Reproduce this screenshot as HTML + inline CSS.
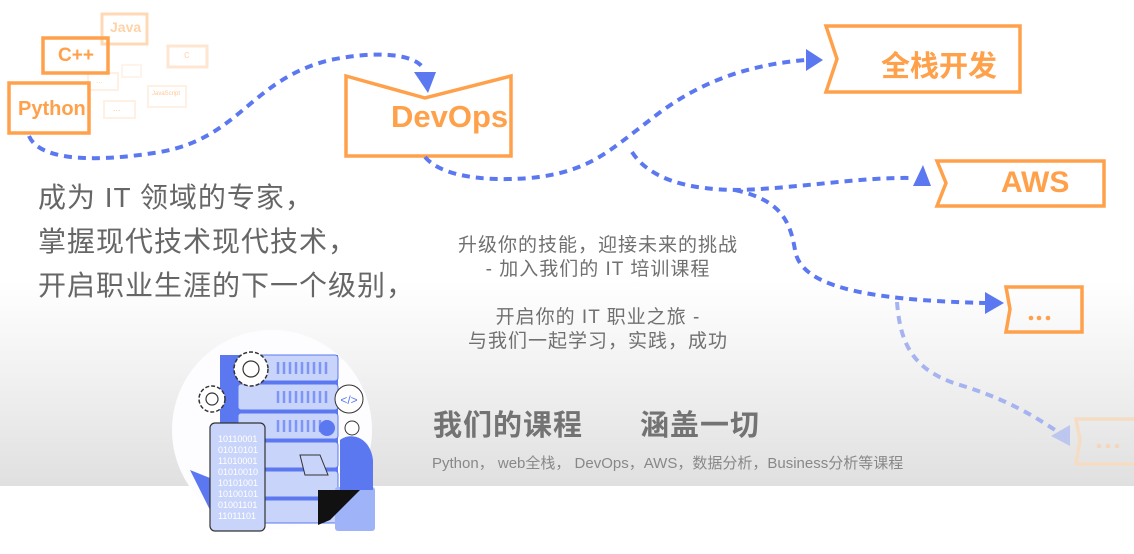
<!DOCTYPE html>
<html><head><meta charset="utf-8"><style>
html,body{margin:0;padding:0}
body{width:1134px;height:554px;position:relative;overflow:hidden;background:#fff;font-family:"Liberation Sans","Noto Sans CJK SC",sans-serif}
.bg{position:absolute;left:0;top:280px;width:1134px;height:206px;background:linear-gradient(#fff 0%,#f3f3f3 40%,#e0e0e0 100%)}
.t{position:absolute;white-space:nowrap}
</style></head><body>
<div class="bg"></div>
<svg width="1134" height="554" style="position:absolute;left:0;top:0" xmlns="http://www.w3.org/2000/svg">
<g fill="none" stroke-width="3">
<rect x="102" y="14" width="45" height="30" stroke="#ffd9b5"/>
<rect x="168" y="46" width="39" height="21" stroke="#ffe6d0"/>
<rect x="88" y="73" width="30" height="17" stroke="#fff0e4" stroke-width="2"/>
<rect x="122" y="65" width="19" height="12" stroke="#fff0e4" stroke-width="1.5"/>
<rect x="104" y="101" width="31" height="17" stroke="#fff0e4" stroke-width="2"/>
<rect x="148" y="86" width="38" height="21" stroke="#fff0e4" stroke-width="2"/>
<rect x="43" y="38" width="65" height="35" stroke="#ffa04a" stroke-width="3.5"/>
<rect x="9" y="83" width="80" height="50" stroke="#ffa04a" stroke-width="3.5"/>
<path d="M346,76 L425,98 L511,76 L511,156 L346,156 Z" stroke="#ffa04a" stroke-width="3.5"/>
<path d="M826,26 L1020,26 L1020,92 L826,92 L837,59 Z" stroke="#ffa04a" stroke-width="3.5"/>
<path d="M937,161 L1104,161 L1104,206 L937,206 L946,183 Z" stroke="#ffa04a" stroke-width="3.5"/>
<path d="M1006,287 L1082,287 L1082,332 L1006,332 L1010,309 Z" stroke="#ffa04a" stroke-width="3.5"/>
<path d="M1076,419 L1140,419 L1140,464 L1076,464 L1080,440 Z" stroke="#f5dcc4" stroke-width="3.5"/>
</g>
<g fill="none" stroke="#5b78f0" stroke-width="4" stroke-dasharray="8 6">
<path d="M29,136 C40,162 100,162 160,152 C240,138 250,80 330,60 C390,48 420,58 424,70"/>
<path d="M425,157 C440,175 480,182 530,178 C590,172 610,150 650,120 C700,80 750,65 805,60"/>
<path d="M632,152 C650,180 690,190 740,190 C800,188 860,177 912,178"/>
<path d="M735,190 C780,200 790,220 795,250 C800,285 860,300 985,303"/>
<path d="M897,302 C900,340 910,370 960,385 C1010,400 1040,420 1058,432" stroke="#a5b4f0"/>
</g>
<g fill="#5b78f0">
<polygon points="414,72 436,72 428,93"/>
<polygon points="806,49 823,60 806,71"/>
<polygon points="913,186 931,186 923,165"/>
<polygon points="985,292 1004,303 985,314"/>
<polygon points="1051,436 1070,425 1070,446" fill="#bcc6ee"/>
</g>
<g fill="#ffa04a"><circle cx="1031" cy="318" r="2.3"/><circle cx="1039" cy="318" r="2.3"/><circle cx="1048" cy="318" r="2.3"/></g>
<g fill="#f3d6bb"><circle cx="1099" cy="446" r="2.3"/><circle cx="1108" cy="446" r="2.3"/><circle cx="1117" cy="446" r="2.3"/></g>
<!-- illustration -->
<circle cx="272" cy="430" r="100" fill="#fdfdff"/>
<rect x="220" y="355" width="118" height="168" fill="#5b78f0"/>
<g fill="#c9d4fb" stroke="#5b78f0" stroke-width="1">
<rect x="238" y="355" width="100" height="26" rx="3"/><rect x="238" y="384" width="100" height="26" rx="3"/>
<rect x="238" y="413" width="100" height="26" rx="3"/><rect x="238" y="442" width="100" height="26" rx="3"/>
<rect x="238" y="471" width="100" height="26" rx="3"/><rect x="238" y="500" width="100" height="23" rx="3"/>
</g>
<g stroke="#7d95f5" stroke-width="2.5">
<path d="M278,362 v12 M284,362 v12 M290,362 v12 M296,362 v12 M302,362 v12 M308,362 v12 M314,362 v12 M320,362 v12 M326,362 v12"/>
<path d="M278,391 v12 M284,391 v12 M290,391 v12 M296,391 v12 M302,391 v12 M308,391 v12 M314,391 v12 M320,391 v12 M326,391 v12"/>
<path d="M278,420 v12 M284,420 v12 M290,420 v12 M296,420 v12 M302,420 v12 M308,420 v12 M314,420 v12 M320,420 v12 M326,420 v12"/>
</g>
<circle cx="251" cy="369" r="17" fill="#fff" stroke="#333" stroke-width="1.5" stroke-dasharray="4 2"/>
<circle cx="251" cy="369" r="8" fill="#fff" stroke="#333" stroke-width="1.2"/>
<circle cx="212" cy="399" r="13" fill="#fff" stroke="#333" stroke-width="1.5" stroke-dasharray="4 2"/>
<circle cx="212" cy="399" r="6" fill="#fff" stroke="#333" stroke-width="1.2"/>
<circle cx="349" cy="399" r="14" fill="#fff" stroke="#333" stroke-width="1"/>
<text x="349" y="404" font-size="12" fill="#5b78f0" text-anchor="middle">&lt;/&gt;</text>
<path d="M190,470 L215,480 L215,520 Z" fill="#5b78f0"/>
<rect x="210" y="423" width="55" height="108" rx="5" fill="#c9d4fb" stroke="#333" stroke-width="1.2"/>
<text font-size="9" fill="#fff" font-family="Liberation Sans"><tspan x="218" y="442">10110001</tspan><tspan x="218" y="453">01010101</tspan><tspan x="218" y="464">11010001</tspan><tspan x="218" y="475">01010010</tspan><tspan x="218" y="486">10101001</tspan><tspan x="218" y="497">10100101</tspan><tspan x="218" y="508">01001101</tspan><tspan x="218" y="519">11011101</tspan></text>
<rect x="335" y="487" width="40" height="44" rx="3" fill="#9fb3f8"/>
<path d="M340,440 C350,432 370,436 373,460 L373,490 L340,490 Z" fill="#5b78f0"/>
<circle cx="352" cy="428" r="7" fill="#fff" stroke="#333"/>
<path d="M318,490 L360,490 L330,520 L318,525 Z" fill="#111"/>
<path d="M300,455 L320,455 L328,475 L305,475 Z" fill="#c9d4fb" stroke="#333"/>
<circle cx="327" cy="428" r="8" fill="#5b78f0"/>
</svg>
<div class="t" style="left:18px;top:98px;font-size:20px;font-weight:bold;color:#ffa04a">Python</div>
<div class="t" style="left:58px;top:45px;font-size:19px;font-weight:bold;color:#ffa04a">C++</div>
<div class="t" style="left:110px;top:19px;font-size:14px;font-weight:bold;color:#ffd2a8">Java</div>
<div class="t" style="left:184px;top:49px;font-size:11px;color:#ffd9b8">c</div>
<div class="t" style="left:152px;top:91px;font-size:6px;color:#ffc89a">JavaScript</div>
<div class="t" style="left:113px;top:103px;font-size:9px;color:#ffc89a">...</div>
<div class="t" style="left:96px;top:76px;font-size:8px;color:#ffd5b0">...</div>
<div class="t" style="left:391px;top:99px;font-size:31px;font-weight:bold;color:#ffa04a">DevOps</div>
<div class="t" style="left:881px;top:43px;font-size:29px;font-weight:bold;color:#ffa04a">全栈开发</div>
<div class="t" style="left:1001px;top:166px;font-size:30px;font-weight:bold;color:#ffa04a">AWS</div>
<div class="t" style="left:38px;top:176px;font-size:28px;letter-spacing:1px;line-height:44px;color:#666">成为 IT 领域的专家，<br>掌握现代技术现代技术，<br>开启职业生涯的下一个级别，</div>
<div class="t" style="left:398px;top:234px;width:400px;text-align:center;font-size:19px;letter-spacing:1px;line-height:24px;color:#707070">升级你的技能，迎接未来的挑战<br>- 加入我们的 IT 培训课程<br><br style="line-height:25px">开启你的 IT 职业之旅 -<br>与我们一起学习，实践，成功</div>
<div class="t" style="left:433px;top:402px;font-size:29px;letter-spacing:1px;font-weight:bold;color:#737373">我们的课程<span style="position:absolute;left:207px">涵盖一切</span></div>
<div class="t" style="left:432px;top:452px;font-size:15px;color:#888">Python， web全栈， DevOps，AWS，数据分析，Business分析等课程</div>
</body></html>
